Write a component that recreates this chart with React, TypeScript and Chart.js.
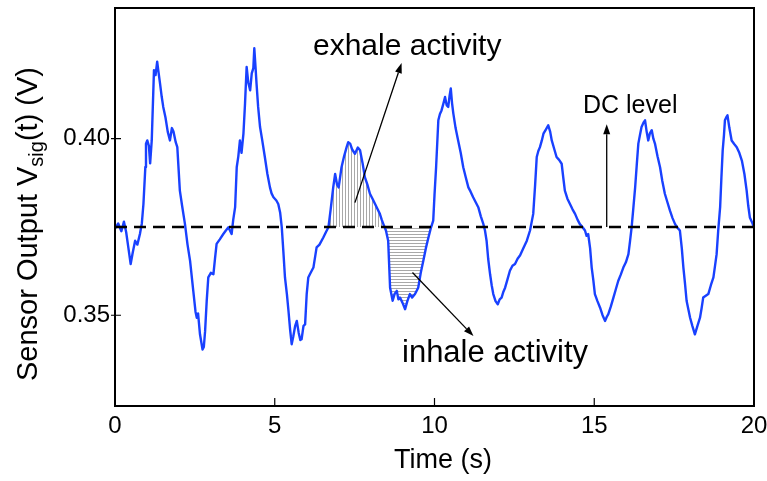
import React, { useEffect, useRef } from 'react';
import { Chart, registerables } from 'chart.js';

Chart.register(...registerables);

// ---- data ----
const TIME: number[] = [
  0.0, 0.1, 0.2, 0.28, 0.35, 0.42, 0.49, 0.56, 0.63, 0.7, 0.78, 0.84, 0.89, 0.95, 0.97, 1.01, 1.06, 1.1, 1.15,
  1.22, 1.27, 1.32, 1.36, 1.41, 1.46, 1.51, 1.58, 1.65, 1.72, 1.78, 1.83, 1.9, 1.95, 2.03, 2.1, 2.19, 2.27,
  2.35, 2.45, 2.52, 2.56, 2.6, 2.66, 2.74, 2.78, 2.82, 2.87, 2.92, 3.0, 3.08, 3.13, 3.18, 3.28, 3.39, 3.47,
  3.55, 3.65, 3.7, 3.76, 3.81, 3.86, 3.91, 3.96, 4.02, 4.07, 4.12, 4.17, 4.23, 4.28, 4.33, 4.36, 4.4, 4.43,
  4.48, 4.54, 4.6, 4.69, 4.77, 4.85, 4.9, 4.96, 5.05, 5.11, 5.17, 5.22, 5.27, 5.32, 5.38, 5.43, 5.48, 5.53,
  5.58, 5.64, 5.69, 5.75, 5.8, 5.84, 5.9, 5.95, 6.0, 6.05, 6.1, 6.21, 6.31, 6.4, 6.52, 6.6, 6.68, 6.75, 6.83,
  6.89, 6.95, 7.0, 7.09, 7.17, 7.25, 7.3, 7.36, 7.42, 7.51, 7.6, 7.67, 7.75, 7.82, 7.9, 7.98, 8.06, 8.14,
  8.22, 8.29, 8.35, 8.4, 8.48, 8.55, 8.61, 8.69, 8.75, 8.82, 8.87, 8.92, 9.0, 9.08, 9.15, 9.23, 9.3, 9.39,
  9.49, 9.57, 9.65, 9.73, 9.81, 9.88, 9.96, 10.0, 10.05, 10.12, 10.17, 10.22, 10.28, 10.33, 10.38, 10.43,
  10.47, 10.51, 10.55, 10.59, 10.66, 10.74, 10.82, 10.9, 10.98, 11.06, 11.13, 11.21, 11.29, 11.37, 11.45,
  11.53, 11.58, 11.63, 11.68, 11.74, 11.79, 11.84, 11.91, 11.98, 12.04, 12.1, 12.15, 12.21, 12.28, 12.36,
  12.44, 12.52, 12.6, 12.68, 12.78, 12.89, 12.99, 13.09, 13.15, 13.2, 13.25, 13.3, 13.36, 13.41, 13.48,
  13.56, 13.62, 13.67, 13.75, 13.82, 13.9, 13.98, 14.03, 14.08, 14.16, 14.24, 14.32, 14.4, 14.48, 14.55,
  14.63, 14.71, 14.76, 14.81, 14.87, 14.92, 14.97, 15.02, 15.1, 15.18, 15.26, 15.34, 15.39, 15.44, 15.52,
  15.6, 15.68, 15.75, 15.83, 15.91, 15.99, 16.07, 16.12, 16.17, 16.22, 16.28, 16.33, 16.38, 16.43, 16.48,
  16.54, 16.59, 16.64, 16.69, 16.74, 16.8, 16.85, 16.9, 16.98, 17.06, 17.13, 17.21, 17.29, 17.37, 17.45,
  17.53, 17.6, 17.68, 17.74, 17.79, 17.84, 17.89, 17.95, 18.0, 18.07, 18.15, 18.23, 18.31, 18.36, 18.41,
  18.49, 18.57, 18.65, 18.73, 18.78, 18.83, 18.88, 18.94, 18.98, 19.02, 19.06, 19.09, 19.13, 19.17, 19.23,
  19.3, 19.38, 19.46, 19.54, 19.62, 19.7, 19.77, 19.82, 19.87, 19.93, 20.0,
];

const VSIG: number[] = [
  0.3745, 0.376, 0.3738, 0.3765, 0.3735, 0.369, 0.3645, 0.368, 0.3711, 0.37, 0.373, 0.376, 0.3815, 0.392, 0.3986, 0.3995, 0.398, 0.393, 0.3995,
  0.4194, 0.418, 0.4218, 0.419, 0.4156, 0.412, 0.409, 0.406, 0.402, 0.3995, 0.403, 0.402, 0.399, 0.3976, 0.3853, 0.381, 0.3758, 0.37,
  0.3654, 0.3569, 0.351, 0.3493, 0.3505, 0.3446, 0.3403, 0.341, 0.3455, 0.354, 0.3607, 0.362, 0.3616, 0.366, 0.3702, 0.3715, 0.373, 0.374,
  0.3749, 0.373, 0.377, 0.3806, 0.3919, 0.395, 0.3995, 0.396, 0.4014, 0.41, 0.4203, 0.416, 0.4137, 0.4185, 0.42, 0.4256, 0.42, 0.4156,
  0.409, 0.4033, 0.4, 0.3948, 0.39, 0.3862, 0.3845, 0.3834, 0.3825, 0.3815, 0.379, 0.3749, 0.368, 0.3607, 0.356, 0.3512, 0.346, 0.3418,
  0.344, 0.347, 0.3484, 0.345, 0.343, 0.3432, 0.347, 0.3474, 0.356, 0.3607, 0.3616, 0.3635, 0.3692, 0.37, 0.372, 0.3735, 0.3749, 0.38, 0.3862,
  0.39, 0.387, 0.3862, 0.3919, 0.395, 0.3976, 0.399, 0.3986, 0.397, 0.3957, 0.3975, 0.3967, 0.393, 0.3891, 0.387, 0.3844, 0.383, 0.3815,
  0.38, 0.3787, 0.377, 0.3758, 0.374, 0.3711, 0.3578, 0.3541, 0.356, 0.3569, 0.3545, 0.355, 0.3535, 0.3517, 0.354, 0.356, 0.355, 0.356,
  0.3578, 0.362, 0.3654, 0.369, 0.372, 0.3745, 0.3768, 0.384, 0.3919, 0.4052, 0.407, 0.408, 0.41, 0.4118, 0.4095, 0.409,
  0.412, 0.4142, 0.41, 0.4071, 0.403, 0.3995, 0.396, 0.3919, 0.389, 0.3862, 0.385, 0.3834, 0.382, 0.3806, 0.378,
  0.3758, 0.374, 0.3711, 0.366, 0.3616, 0.3585, 0.356, 0.354, 0.3531, 0.3545, 0.355, 0.3565, 0.3578, 0.36, 0.3626,
  0.364, 0.3645, 0.366, 0.367, 0.369, 0.3711, 0.374, 0.3787, 0.387, 0.3948, 0.3965, 0.3976, 0.3995, 0.4014, 0.4025,
  0.4038, 0.402, 0.3995, 0.397, 0.3948, 0.394, 0.3929, 0.389, 0.3853, 0.383, 0.3815, 0.38, 0.3787, 0.377, 0.3758,
  0.375, 0.374, 0.3725, 0.373, 0.369, 0.3635, 0.36, 0.356, 0.354, 0.3522, 0.35, 0.3484, 0.3495, 0.3503, 0.3525,
  0.355, 0.3575, 0.3597, 0.3615, 0.3635, 0.365, 0.3673, 0.371, 0.3749, 0.38, 0.3862, 0.3925, 0.3986, 0.401, 0.4033,
  0.4045, 0.4052, 0.402, 0.3995, 0.4015, 0.4024, 0.4, 0.3986, 0.395, 0.3919, 0.388, 0.3844, 0.382, 0.3796, 0.3775,
  0.3758, 0.3748, 0.374, 0.369, 0.3635, 0.359, 0.3541, 0.3515, 0.3493, 0.347, 0.3446, 0.347, 0.3493, 0.352, 0.355,
  0.3555, 0.356, 0.3585, 0.3607, 0.364, 0.3673, 0.374, 0.3806, 0.389, 0.3967, 0.401, 0.4052, 0.406, 0.4066, 0.403,
  0.3995, 0.3985, 0.3976, 0.396, 0.3938, 0.39, 0.3853, 0.381, 0.3777, 0.3765, 0.3749,
];

const DC_LEVEL = 0.375;
const X_TICKS = [0, 5, 10, 15, 20];
const Y_TICKS = [0.35, 0.4];
const X_RANGE = [0, 20];
const Y_RANGE = [0.3243, 0.437];
const EXHALE_RANGE = [6.68, 8.4];
const INHALE_RANGE = [8.4, 9.96];

const FONT = '"Liberation Sans", Arial, Helvetica, sans-serif';

function makePattern(vertical: boolean): CanvasPattern | string {
  const c = document.createElement('canvas');
  c.width = 3;
  c.height = 3;
  const g = c.getContext('2d');
  if (!g) return '#ccc';
  g.fillStyle = '#a8a8a8';
  if (vertical) g.fillRect(0, 0, 1, 3);
  else g.fillRect(0, 0, 3, 1);
  return g.createPattern(c, 'repeat') || '#ccc';
}

function arrow(ctx: CanvasRenderingContext2D, x1: number, y1: number, x2: number, y2: number) {
  const a = Math.atan2(y2 - y1, x2 - x1);
  const len = 10;
  const w = 3.5;
  const bx = x2 - len * Math.cos(a);
  const by = y2 - len * Math.sin(a);
  ctx.beginPath();
  ctx.moveTo(x1, y1);
  ctx.lineTo(bx, by);
  ctx.stroke();
  ctx.beginPath();
  ctx.moveTo(x2, y2);
  ctx.lineTo(bx + w * Math.sin(a), by - w * Math.cos(a));
  ctx.lineTo(bx - w * Math.sin(a), by + w * Math.cos(a));
  ctx.closePath();
  ctx.fill();
}

const decorPlugin = {
  id: 'decor',
  afterDraw(chart: any) {
    const { ctx, chartArea } = chart;
    const xs = chart.scales.x;
    const ys = chart.scales.y;
    const { left, right, top, bottom } = chartArea;
    ctx.save();
    // frame
    ctx.strokeStyle = '#000';
    ctx.lineWidth = 2;
    ctx.strokeRect(left, top, right - left, bottom - top);
    // ticks
    ctx.lineWidth = 1.2;
    ctx.beginPath();
    X_TICKS.forEach((t) => {
      const px = xs.getPixelForValue(t);
      ctx.moveTo(px, bottom);
      ctx.lineTo(px, bottom - 8);
    });
    Y_TICKS.forEach((v) => {
      const py = ys.getPixelForValue(v);
      ctx.moveTo(left - 4, py);
      ctx.lineTo(left + 6, py);
    });
    ctx.stroke();

    // annotations
    const X = (t: number) => xs.getPixelForValue(t);
    const Y = (v: number) => ys.getPixelForValue(v);
    ctx.fillStyle = '#000';
    ctx.strokeStyle = '#000';
    ctx.lineWidth = 1.3;
    arrow(ctx, X(7.51), Y(0.3819), X(8.97), Y(0.4214));
    arrow(ctx, X(9.31), Y(0.3621), X(11.22), Y(0.3441));
    arrow(ctx, X(15.39), Y(DC_LEVEL), X(15.39), Y(0.4041));

    ctx.textBaseline = 'alphabetic';
    ctx.textAlign = 'left';
    ctx.font = `30px ${FONT}`;
    ctx.fillText('exhale activity', 313, 55);
    ctx.font = `31px ${FONT}`;
    ctx.fillText('inhale activity', 402, 362);
    ctx.font = `25px ${FONT}`;
    ctx.fillText('DC level', 583, 113);

    // x-axis title
    ctx.font = `27px ${FONT}`;
    ctx.textAlign = 'center';
    ctx.fillText('Time (s)', 443, 468);
    ctx.textAlign = 'left';

    // y-axis title with subscript
    const mainFont = `29px ${FONT}`;
    const subFont = `20px ${FONT}`;
    const parts: [string, string, number][] = [
      ['Sensor Output V', mainFont, 0],
      ['sig', subFont, 6],
      ['(t) (V)', mainFont, 0],
    ];
    let total = 0;
    const widths = parts.map(([s, f]) => {
      ctx.font = f;
      const w = ctx.measureText(s).width;
      total += w;
      return w;
    });
    ctx.translate(37, 224);
    ctx.rotate(-Math.PI / 2);
    let cx = -total / 2;
    parts.forEach(([s, f, dy], i) => {
      ctx.font = f;
      ctx.fillText(s, cx, dy);
      cx += widths[i];
    });
    ctx.restore();
  },
};

export default function App() {
  const ref = useRef<HTMLCanvasElement | null>(null);
  useEffect(() => {
    if (!ref.current) return;
    const main = TIME.map((t, i) => ({ x: t, y: VSIG[i] }));
    const exhale = main.filter((p) => p.x >= EXHALE_RANGE[0] && p.x <= EXHALE_RANGE[1]);
    const inhale = main.filter((p) => p.x >= INHALE_RANGE[0] && p.x <= INHALE_RANGE[1]);
    const chart = new Chart(ref.current, {
      type: 'line',
      data: {
        datasets: [
          {
            label: 'DC level',
            data: [
              { x: X_RANGE[0], y: DC_LEVEL },
              { x: X_RANGE[1], y: DC_LEVEL },
            ],
            borderColor: '#000',
            borderWidth: 2.5,
            borderDash: [12, 7],
            pointRadius: 0,
            fill: false,
            order: 0,
          },
          {
            label: 'Vsig',
            data: main,
            borderColor: 'rgb(25,65,255)',
            borderWidth: 2.4,
            pointRadius: 0,
            tension: 0,
            fill: false,
            borderJoinStyle: 'round',
            order: 1,
          },
          {
            label: 'exhale',
            data: exhale,
            borderWidth: 0,
            borderColor: 'rgba(0,0,0,0)',
            pointRadius: 0,
            fill: { value: DC_LEVEL },
            backgroundColor: makePattern(true) as any,
            order: 2,
          },
          {
            label: 'inhale',
            data: inhale,
            borderWidth: 0,
            borderColor: 'rgba(0,0,0,0)',
            pointRadius: 0,
            fill: { value: DC_LEVEL },
            backgroundColor: makePattern(false) as any,
            order: 3,
          },
        ],
      },
      options: {
        animation: false,
        responsive: true,
        maintainAspectRatio: false,
        layout: { padding: { top: 8, right: 13, left: 0, bottom: 0 } },
        plugins: { legend: { display: false }, tooltip: { enabled: false } },
        scales: {
          x: {
            type: 'linear',
            min: X_RANGE[0],
            max: X_RANGE[1],
            grid: { display: false, drawTicks: false },
            border: { display: false },
            ticks: {
              stepSize: 5,
              padding: 6,
              color: '#000',
              font: { family: FONT, size: 24 },
            },
            afterBuildTicks: (s: any) => {
              s.ticks = X_TICKS.map((v) => ({ value: v }));
            },
            afterFit: (s: any) => {
              s.height = 75;
              s.paddingLeft = 0;
              s.paddingRight = 0;
            },
          },
          y: {
            type: 'linear',
            min: Y_RANGE[0],
            max: Y_RANGE[1],
            grid: { display: false, drawTicks: false },
            border: { display: false },
            ticks: {
              padding: 5,
              color: '#000',
              font: { family: FONT, size: 24 },
              callback: (v: any) => Number(v).toFixed(2),
            },
            afterBuildTicks: (s: any) => {
              s.ticks = Y_TICKS.map((v) => ({ value: v }));
            },
            afterFit: (s: any) => {
              s.width = 115;
              s.paddingTop = 0;
              s.paddingBottom = 0;
            },
          },
        },
      },
      plugins: [decorPlugin],
    });
    return () => chart.destroy();
  }, []);
  return (
    <div style={{ position: 'fixed', left: 0, top: 0, width: 767, height: 481, background: '#fff' }}>
      <canvas ref={ref} />
    </div>
  );
}
